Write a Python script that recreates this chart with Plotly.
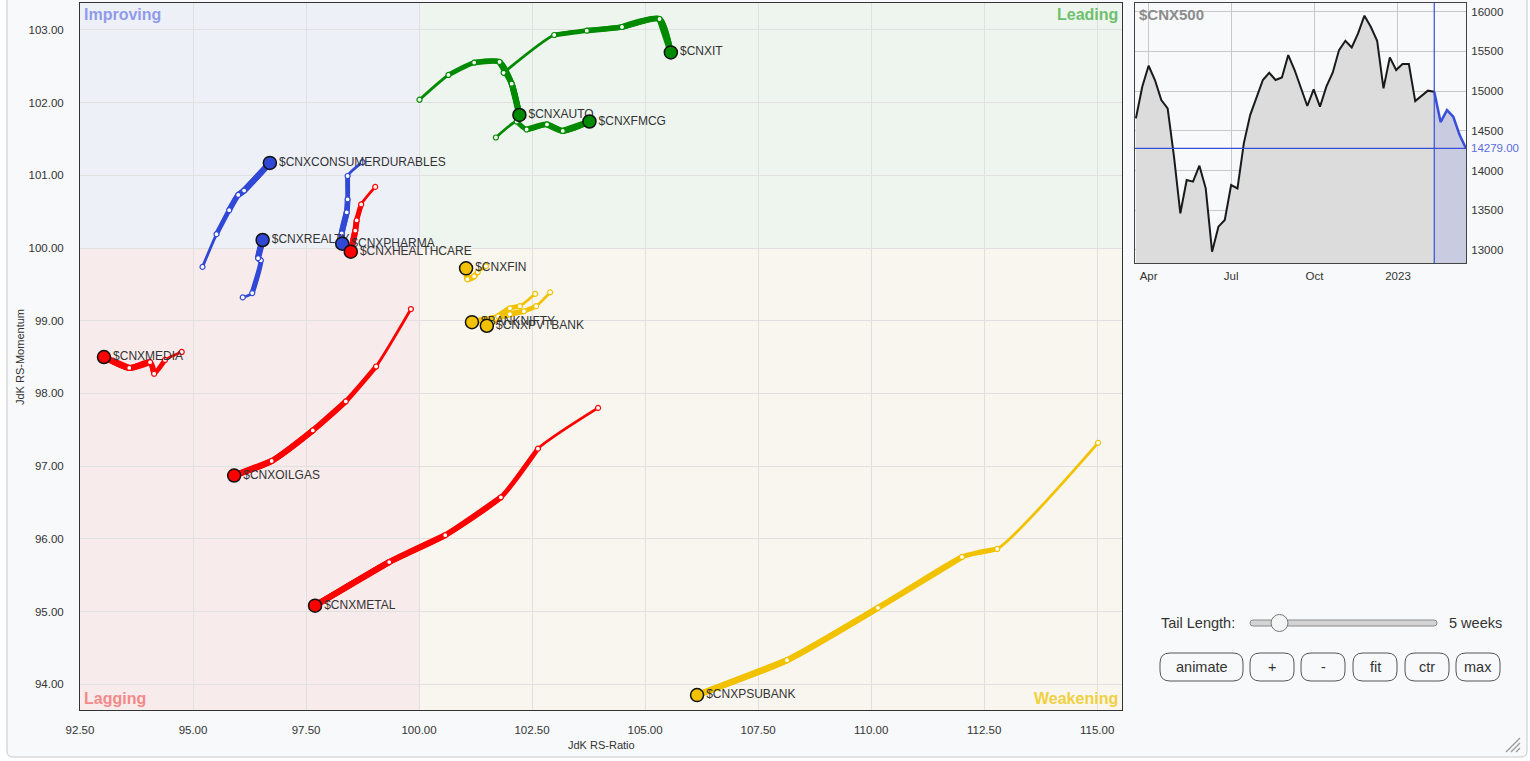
import plotly.graph_objects as go

W, H = 1530, 761
FONT = "Liberation Sans, Arial, sans-serif"

# ---------------- data (oldest -> newest, last point = head) ----------------
cnxit_ratio = [101.87, 102.99, 103.71, 104.49, 105.32, 105.57]
cnxit_mom = [102.41, 102.93, 102.99, 103.04, 103.15, 102.69]
cnxauto_ratio = [100.01, 100.65, 101.22, 101.78, 102.05, 102.22]
cnxauto_mom = [102.04, 102.38, 102.55, 102.56, 102.26, 101.83]
cnxfmcg_ratio = [101.70, 102.16, 102.38, 102.83, 103.18, 103.77]
cnxfmcg_mom = [101.52, 101.74, 101.63, 101.70, 101.61, 101.74]
cnxcd_ratio = [95.21, 95.52, 95.80, 96.00, 96.13, 96.70]
cnxcd_mom = [99.74, 100.19, 100.52, 100.73, 100.79, 101.17]
cnxrealty_ratio = [96.10, 96.31, 96.50, 96.44, 96.54]
cnxrealty_mom = [99.32, 99.38, 99.83, 99.86, 100.11]
cnxpharma_ratio = [98.75, 98.42, 98.42, 98.40, 98.29, 98.30]
cnxpharma_mom = [101.18, 100.99, 100.67, 100.49, 100.20, 100.06]
cnxhealth_ratio = [99.03, 98.72, 98.62, 98.59, 98.49]
cnxhealth_mom = [100.84, 100.60, 100.38, 100.24, 99.95]
cnxmedia_ratio = [94.75, 94.38, 94.14, 94.05, 93.59, 93.03]
cnxmedia_mom = [98.57, 98.46, 98.27, 98.43, 98.35, 98.50]
cnxoilgas_ratio = [99.82, 99.05, 98.38, 97.65, 96.74, 95.91]
cnxoilgas_mom = [99.16, 98.37, 97.89, 97.49, 97.07, 96.87]
cnxmetal_ratio = [103.96, 102.63, 101.81, 100.58, 99.34, 97.70]
cnxmetal_mom = [97.80, 97.24, 96.57, 96.05, 95.68, 95.08]
cnxpsubank_ratio = [115.02, 112.79, 112.01, 110.15, 108.14, 106.15]
cnxpsubank_mom = [97.32, 95.86, 95.75, 95.05, 94.33, 93.85]
cnxfin_ratio = [101.48, 101.30, 101.22, 101.07, 101.04]
cnxfin_mom = [99.75, 99.67, 99.61, 99.57, 99.72]
banknifty_ratio = [102.90, 102.59, 102.32, 102.01, 101.70, 101.17]
banknifty_mom = [99.39, 99.20, 99.13, 99.09, 99.04, 98.98]
cnxpvtbank_ratio = [102.57, 102.23, 102.01, 101.75, 101.62, 101.50]
cnxpvtbank_mom = [99.37, 99.20, 99.17, 99.06, 98.98, 98.93]

GREEN, BLUE, RED, YELLOW = "#008a00", "#3148d6", "#ff0000", "#f2c200"

series = [
    ("$CNXIT", GREEN, cnxit_ratio, cnxit_mom),
    ("$CNXAUTO", GREEN, cnxauto_ratio, cnxauto_mom),
    ("$CNXFMCG", GREEN, cnxfmcg_ratio, cnxfmcg_mom),
    ("$CNXCONSUMERDURABLES", BLUE, cnxcd_ratio, cnxcd_mom),
    ("$CNXREALTY", BLUE, cnxrealty_ratio, cnxrealty_mom),
    ("$CNXPHARMA", BLUE, cnxpharma_ratio, cnxpharma_mom),
    ("$CNXHEALTHCARE", RED, cnxhealth_ratio, cnxhealth_mom),
    ("$CNXMEDIA", RED, cnxmedia_ratio, cnxmedia_mom),
    ("$CNXOILGAS", RED, cnxoilgas_ratio, cnxoilgas_mom),
    ("$CNXMETAL", RED, cnxmetal_ratio, cnxmetal_mom),
    ("$CNXPSUBANK", YELLOW, cnxpsubank_ratio, cnxpsubank_mom),
    ("$CNXFIN", YELLOW, cnxfin_ratio, cnxfin_mom),
    ("$BANKNIFTY", YELLOW, banknifty_ratio, banknifty_mom),
    ("$CNXPVTBANK", YELLOW, cnxpvtbank_ratio, cnxpvtbank_mom),
]

cnx500_dates = [
    "2022-03-18", "2022-03-25", "2022-04-01", "2022-04-08", "2022-04-15", "2022-04-22",
    "2022-04-29", "2022-05-06", "2022-05-13", "2022-05-20", "2022-05-27", "2022-06-03",
    "2022-06-10", "2022-06-17", "2022-06-24", "2022-07-01", "2022-07-08", "2022-07-15",
    "2022-07-22", "2022-07-29", "2022-08-05", "2022-08-12", "2022-08-19", "2022-08-26",
    "2022-09-02", "2022-09-09", "2022-09-16", "2022-09-23", "2022-09-30", "2022-10-07",
    "2022-10-14", "2022-10-21", "2022-10-28", "2022-11-04", "2022-11-11", "2022-11-18",
    "2022-11-25", "2022-12-02", "2022-12-09", "2022-12-16", "2022-12-23", "2022-12-30",
    "2023-01-06", "2023-01-13", "2023-01-20", "2023-01-27", "2023-02-03", "2023-02-10",
    "2023-02-17", "2023-02-24", "2023-03-03", "2023-03-10", "2023-03-17",
]
cnx500_close = [
    14657, 15056, 15320, 15140, 14888, 14783, 14175, 13462, 13881, 13860, 14061, 13776,
    12979, 13294, 13378, 13818, 13776, 14343, 14699, 14930, 15140, 15232, 15140, 15173,
    15455, 15266, 15048, 14813, 15022, 14804, 15056, 15232, 15517, 15635, 15551, 15727,
    15950, 15811, 15635, 15035, 15425, 15266, 15341, 15341, 14875, 14938, 15006, 14993,
    14611, 14762, 14678, 14447, 14279,
]
tail_weeks = 5
inset_ticks = [13000, 13500, 14000, 14500, 15000, 15500, 16000]
inset_xticks = ["2022-04-01", "2022-07-01", "2022-10-01", "2023-01-01"]
inset_xticklabels = ["Apr", "Jul", "Oct", "2023"]
buttons = ["animate", "+", "-", "fit", "ctr", "max"]

# ---------------- layout geometry (pixels) ----------------
MAIN = dict(l=80, r=1122, t=3, b=710)
INSET = dict(l=1135, r=1466, t=3, b=263)


def xd(px):
    return px / W


def yd(py):
    return (H - py) / H


fig = go.Figure()

# ---------------- trails (tapered toward the oldest point) ----------------
for name, col, xs, ys in series:
    n = len(xs)
    for k in range(n - 1):
        f = k / max(1, n - 2)
        w = 6.0 - 3.2 * (1 - f) ** 3.5
        fig.add_trace(go.Scatter(
            x=xs[k:], y=ys[k:], mode="lines",
            line=dict(color=col, width=w, shape="spline", smoothing=0.6),
            hoverinfo="skip", showlegend=False, xaxis="x", yaxis="y"))
for name, col, xs, ys in series:
    fig.add_trace(go.Scatter(
        x=xs[:-1], y=ys[:-1], mode="markers",
        marker=dict(size=5, color="white", line=dict(color=col, width=1.2)),
        hoverinfo="skip", showlegend=False, xaxis="x", yaxis="y"))
for name, col, xs, ys in series:
    fig.add_trace(go.Scatter(
        x=[xs[-1]], y=[ys[-1]], mode="markers+text", text=[name],
        textposition="middle right",
        textfont=dict(family=FONT, size=12, color="#333333"),
        marker=dict(size=13, color=col, line=dict(color="#111111", width=1.5)),
        hoverinfo="skip", showlegend=False, xaxis="x", yaxis="y"))

# ---------------- inset price chart ----------------
split = len(cnx500_close) - tail_weeks - 1
fig.add_trace(go.Scatter(
    x=cnx500_dates[:split + 1], y=cnx500_close[:split + 1], mode="lines",
    line=dict(color="#1a1a1a", width=2), fill="tozeroy", fillcolor="#dcdcdc",
    hoverinfo="skip", showlegend=False, xaxis="x2", yaxis="y2"))
fig.add_trace(go.Scatter(
    x=cnx500_dates[split:], y=cnx500_close[split:], mode="lines",
    line=dict(color="#3a4fd8", width=2.5), fill="tozeroy", fillcolor="#c9cce0",
    hoverinfo="skip", showlegend=False, xaxis="x2", yaxis="y2"))

shapes = []


def rr_path(x0, y0, x1, y1, r):
    def p(x, y):
        return f"{x},{H - y}"
    return (f"M {p(x0 + r, y0)} L {p(x1 - r, y0)} Q {p(x1, y0)} {p(x1, y0 + r)} "
            f"L {p(x1, y1 - r)} Q {p(x1, y1)} {p(x1 - r, y1)} L {p(x0 + r, y1)} "
            f"Q {p(x0, y1)} {p(x0, y1 - r)} L {p(x0, y0 + r)} Q {p(x0, y0)} {p(x0 + r, y0)} Z")


def pix_shape(path, fill, line_col, lw, layer="below"):
    return dict(type="path", xref="paper", yref="paper", xsizemode="pixel",
                ysizemode="pixel", xanchor=0, yanchor=0, path=path,
                fillcolor=fill, line=dict(color=line_col, width=lw), layer=layer)


# container
shapes.append(pix_shape(rr_path(7, -6, 1527, 757, 6), "#f8f9fa", "#c8c8c8", 1))

# quadrants
quad = [
    (92.5, 100, 100, 110, "#eef0f8"),
    (100, 120, 100, 110, "#eef5ee"),
    (92.5, 100, 90, 100, "#f8ebeb"),
    (100, 120, 90, 100, "#f8f6ee"),
]
for x0, x1, y0, y1, c in quad:
    shapes.append(dict(type="rect", xref="x", yref="y", x0=x0, x1=x1, y0=y0, y1=y1,
                       fillcolor=c, line=dict(width=0), layer="below"))
shapes.append(dict(type="line", xref="x", yref="y domain", x0=100, x1=100, y0=0, y1=1,
                   line=dict(color="#111111", width=1.2), layer="below"))
shapes.append(dict(type="line", xref="x domain", yref="y", x0=0, x1=1, y0=100, y1=100,
                   line=dict(color="#111111", width=1.2), layer="below"))

# inset reference lines
shapes.append(dict(type="line", xref="x2", yref="y2 domain", x0=cnx500_dates[split],
                   x1=cnx500_dates[split], y0=0, y1=1, line=dict(color="#3a4fd8", width=1.2)))
shapes.append(dict(type="line", xref="x2 domain", yref="y2", x0=0, x1=1,
                   y0=cnx500_close[-1], y1=cnx500_close[-1], line=dict(color="#3a4fd8", width=1.2)))

# controls: slider
shapes.append(pix_shape(rr_path(1250, 620, 1437, 626, 3), "#d4d4d4", "#8a8a8a", 1, layer="above"))
shapes.append(dict(type="circle", xref="paper", yref="paper", xsizemode="pixel",
                   ysizemode="pixel", xanchor=0, yanchor=0,
                   x0=1271, x1=1288, y0=H - 631.5, y1=H - 614.5,
                   fillcolor="#f4f4f4", line=dict(color="#777777", width=1), layer="above"))
# buttons
btn_x = [(1160, 1243), (1250, 1294), (1301, 1345), (1353, 1397), (1405, 1449), (1456, 1500)]
for (b0, b1) in btn_x:
    shapes.append(pix_shape(rr_path(b0, 653, b1, 681, 10), "rgba(0,0,0,0)", "#555555", 1, layer="above"))
# resize handle
for d in (0, 5, 10):
    shapes.append(dict(type="line", xref="paper", yref="paper", xsizemode="pixel",
                       ysizemode="pixel", xanchor=0, yanchor=0,
                       x0=1506 + d, y0=H - 752, x1=1520, y1=H - (738 + d),
                       line=dict(color="#9a9a9a", width=1.3)))

annotations = []
qfont = dict(family=FONT, size=16)
annotations += [
    dict(text="<b>Improving</b>", xref="paper", yref="paper", x=xd(82), y=yd(4),
         xanchor="left", yanchor="top", showarrow=False, font=dict(color="#8f9bea", **qfont)),
    dict(text="<b>Leading</b>", xref="paper", yref="paper", x=xd(1120), y=yd(4),
         xanchor="right", yanchor="top", showarrow=False, font=dict(color="#6ec06e", **qfont)),
    dict(text="<b>Lagging</b>", xref="paper", yref="paper", x=xd(82), y=yd(709),
         xanchor="left", yanchor="bottom", showarrow=False, font=dict(color="#f28a8a", **qfont)),
    dict(text="<b>Weakening</b>", xref="paper", yref="paper", x=xd(1120), y=yd(709),
         xanchor="right", yanchor="bottom", showarrow=False, font=dict(color="#f1d040", **qfont)),
    dict(text="JdK RS-Ratio", xref="paper", yref="paper", x=xd(601), y=yd(745),
         xanchor="center", yanchor="middle", showarrow=False,
         font=dict(family=FONT, size=11, color="#333333")),
    dict(text="JdK RS-Momentum", xref="paper", yref="paper", x=xd(20), y=yd(357),
         xanchor="center", yanchor="middle", textangle=-90, showarrow=False,
         font=dict(family=FONT, size=11, color="#333333")),
    dict(text="<b>$CNX500</b>", xref="paper", yref="paper", x=xd(1137), y=yd(4),
         xanchor="left", yanchor="top", showarrow=False,
         font=dict(family=FONT, size=15, color="#8c8c8c")),
    dict(text=f"{cnx500_close[-1]:.2f}", xref="paper", yref="y2", x=xd(1469),
         y=cnx500_close[-1], xanchor="left", yanchor="middle", showarrow=False,
         font=dict(family=FONT, size=11.5, color="#5a6be0")),
    dict(text="Tail Length:", xref="paper", yref="paper", x=xd(1159), y=yd(623),
         xanchor="left", yanchor="middle", showarrow=False,
         font=dict(family=FONT, size=14.5, color="#333333")),
    dict(text=f"{tail_weeks} weeks", xref="paper", yref="paper", x=xd(1447), y=yd(623),
         xanchor="left", yanchor="middle", showarrow=False,
         font=dict(family=FONT, size=14.5, color="#333333")),
]
for label, (b0, b1) in zip(buttons, btn_x):
    annotations.append(dict(text=label, xref="paper", yref="paper", x=xd((b0 + b1) / 2),
                            y=yd(667), xanchor="center", yanchor="middle", showarrow=False,
                            font=dict(family=FONT, size=14.5, color="#333333")))

tickfont = dict(family=FONT, size=11.5, color="#333333")
common = dict(zeroline=False, showline=True, mirror=True, linewidth=1, automargin=False,
              fixedrange=True, tickcolor="rgba(0,0,0,0)", ticks="outside", tickfont=tickfont)
fig.update_layout(
    width=W, height=H, margin=dict(l=0, r=0, t=0, b=0, pad=0, autoexpand=False),
    paper_bgcolor="white", plot_bgcolor="#f7f7f7",
    font=dict(family=FONT),
    shapes=shapes, annotations=annotations,
    xaxis=dict(domain=[xd(MAIN["l"]), xd(MAIN["r"])], range=[92.5, 115.55],
               tick0=92.5, dtick=2.5, tickformat=".2f", showgrid=True, gridcolor="#e0e0e0",
               linecolor="#333333", ticklen=9, anchor="y", **common),
    yaxis=dict(domain=[yd(MAIN["b"]), yd(MAIN["t"])], range=[93.645, 103.37],
               tick0=94, dtick=1, tickformat=".2f", showgrid=True, gridcolor="#e0e0e0",
               linecolor="#333333", ticklen=13, anchor="x", **common),
    xaxis2=dict(domain=[xd(INSET["l"]), xd(INSET["r"])], type="date",
                range=["2022-03-17", "2023-03-17"], tickvals=inset_xticks,
                ticktext=inset_xticklabels, showgrid=True, gridcolor="#c8c8c8",
                linecolor="#444444", ticklen=2, anchor="y2", **common),
    yaxis2=dict(domain=[yd(INSET["b"]), yd(INSET["t"])], range=[12836, 16110],
                tickvals=inset_ticks, tickformat="d", side="right", showgrid=True,
                gridcolor="#c8c8c8", linecolor="#444444", ticklen=2, anchor="x2", **common),
)

fig.write_html("out.html", config={"displayModeBar": False},
               post_script="document.body.style.margin='0';document.body.style.overflow='hidden';")
